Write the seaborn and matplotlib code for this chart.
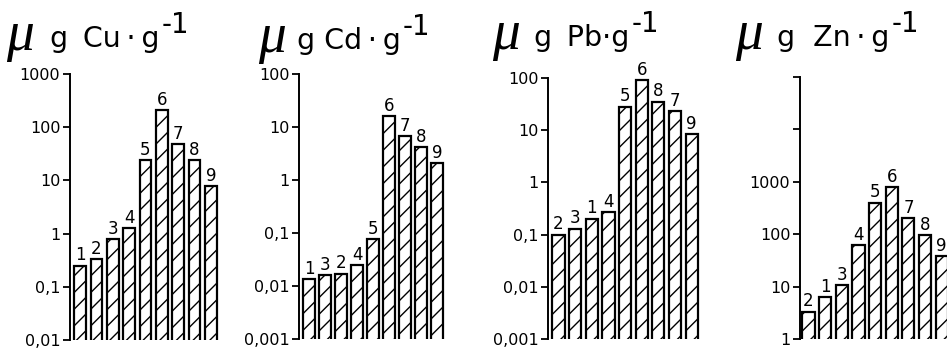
import matplotlib
matplotlib.use('Agg')
import matplotlib.pyplot as plt
import seaborn as sns
from matplotlib.ticker import NullLocator, FixedLocator, FixedFormatter

# Bar heights (sample number shown above each bar)
cu_labels = ['1', '2', '3', '4', '5', '6', '7', '8', '9']
cu_values = [0.25, 0.33, 0.78, 1.25, 24, 210, 48, 24, 7.7]

cd_labels = ['1', '3', '2', '4', '5', '6', '7', '8', '9']
cd_values = [0.0135, 0.016, 0.017, 0.025, 0.077, 16, 6.7, 4.2, 2.1]

pb_labels = ['2', '3', '1', '4', '5', '6', '8', '7', '9']
pb_values = [0.1, 0.13, 0.2, 0.27, 28, 90, 35, 23, 8.4]

zn_labels = ['2', '1', '3', '4', '5', '6', '7', '8', '9']
zn_values = [3.3, 6.3, 10.6, 61, 400, 780, 200, 95, 38]

cu_ticks = [0.01, 0.1, 1, 10, 100, 1000]
cu_ticklabels = ['0,01', '0,1', '1', '10', '100', '1000']
cd_ticks = [0.001, 0.01, 0.1, 1, 10, 100]
cd_ticklabels = ['0,001', '0,01', '0,1', '1', '10', '100']
pb_ticks = cd_ticks
pb_ticklabels = cd_ticklabels
zn_ticks = [1, 10, 100, 1000, 1e4, 1e5]
zn_ticklabels = ['1', '10', '100', '1000', '', '']

sns.set_theme(style='white')
plt.rcParams['font.family'] = ['DejaVu Sans']
plt.rcParams['text.color'] = 'black'
plt.rcParams['ytick.color'] = 'black'
plt.rcParams['hatch.linewidth'] = 1.0
plt.rcParams['hatch.color'] = 'black'

W, H = 947, 349
fig = plt.figure(figsize=(W / 100, H / 100), dpi=100)


def add_px_axes(left, right, top, bottom):
    return fig.add_axes([left / W, 1 - bottom / H, (right - left) / W, (bottom - top) / H])


TS = '\u2009'  # thin space
panels = [
    # labels, values, ticks, ticklabels, (left, right, top, bottom), xlim, (mu x, text x, baseline), heading
    (cu_labels, cu_values, cu_ticks, cu_ticklabels, (70, 219, 74, 340), (-0.62, 8.5),
     (6, 50, 47), 'g' + TS + ' Cu' + TS + '·' + TS + 'g'),
    (cd_labels, cd_values, cd_ticks, cd_ticklabels, (299, 445, 74, 339), (-0.63, 8.5),
     (258, 297, 49), 'g Cd' + TS + '·' + TS + 'g'),
    (pb_labels, pb_values, pb_ticks, pb_ticklabels, (548, 700, 78, 339), (-0.63, 8.5),
     (492, 534, 46), 'g' + TS + ' Pb·g'),
    (zn_labels, zn_values, zn_ticks, zn_ticklabels, (800, 950, 77, 339), (-0.51, 8.5),
     (735, 777, 46), 'g  Zn' + TS + '·' + TS + 'g'),
]

for labels, values, ticks, ticklabels, box, xlim, head_pos, heading in panels:
    ax = add_px_axes(*box)
    sns.barplot(x=labels, y=values, order=labels, ax=ax, color='white',
                edgecolor='black', linewidth=1.6, width=0.73, hatch='//',
                saturation=1, log_scale=True)
    ax.set_yscale('log')
    ax.set_ylim(ticks[0], ticks[-1])
    ax.set_xlim(*xlim)
    ax.yaxis.set_major_locator(FixedLocator(ticks))
    ax.yaxis.set_major_formatter(FixedFormatter(ticklabels))
    ax.yaxis.set_minor_locator(NullLocator())
    ax.set_xticks([])
    ax.tick_params(axis='y', direction='out', length=5, width=1.3, pad=2,
                   labelsize=11.5, left=True, colors='black')
    ax.set_xlabel('')
    ax.set_ylabel('')
    sns.despine(ax=ax, left=False, bottom=True)
    ax.spines['left'].set_linewidth(1.4)
    ax.spines['left'].set_color('black')
    ax.bar_label(ax.containers[0], labels=labels, padding=1, fontsize=12)

    # units heading: large slanted mu, the unit text and a raised "-1"
    mx, gx, base = head_pos
    fig.text(mx / W, 1 - (base + 3) / H, 'μ', fontsize=40,
             family=['Liberation Serif', 'DejaVu Sans'], style='italic',
             ha='left', va='baseline')
    main = fig.text(gx / W, 1 - base / H, heading, fontsize=20.5,
                    ha='left', va='baseline')
    ax.annotate('-1', xy=(1, 0), xycoords=main, xytext=(1.5, 14.5),
                textcoords='offset points', fontsize=20, ha='left',
                va='baseline', annotation_clip=False)

fig.savefig('out.png', dpi=100)
